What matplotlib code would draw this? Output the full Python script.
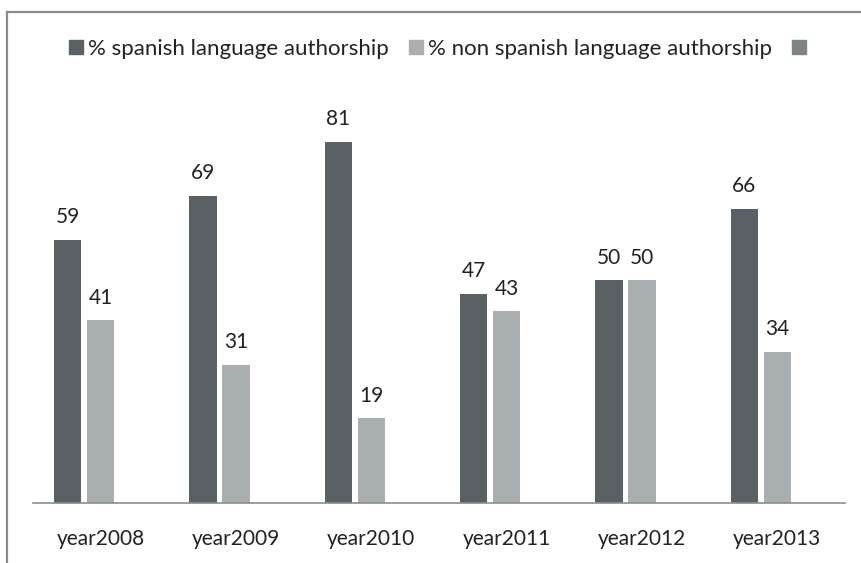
import matplotlib.pyplot as plt
from matplotlib.lines import Line2D
import numpy as np

plt.rcParams['font.family'] = ['Lato', 'DejaVu Sans']

years = ["year2008", "year2009", "year2010", "year2011", "year2012", "year2013"]
spanish = [59, 69, 81, 47, 50, 66]
non_spanish = [41, 31, 19, 43, 50, 34]
third = [0, 0, 0, 0, 0, 0]
labels = ["% spanish language authorship", "% non spanish language authorship", " "]

DARK = "#596164"
LIGHT = "#a9aeb0"
MID = "#7c8386"

W, H = 861, 563
fig = plt.figure(figsize=(W / 100, H / 100), dpi=100)

# axes placed in pixel terms: baseline at y=503, top at 90 -> y=102
ax = fig.add_axes([33 / W, (H - 503) / H, (845 - 33) / W, (503 - 102) / H])

x = np.arange(len(years))
bw = 0.2
off = 0.244
ax.bar(x - off, spanish, bw, color=DARK, linewidth=0)
ax.bar(x, non_spanish, bw, color=LIGHT, linewidth=0)
ax.bar(x + off, third, bw, color=MID, linewidth=0)

for xs, vals in ((x - off, spanish), (x, non_spanish)):
    for xi, v in zip(xs, vals):
        ax.annotate(str(v), (xi, v), xytext=(0, 12), textcoords="offset points",
                    ha="center", va="baseline", fontsize=15, color="#222222")

ax.set_xlim(-0.5, len(years) - 0.5)
ax.set_ylim(0, 90)
ax.set_xticks(x)
ax.set_xticklabels(years, fontsize=15, color="#222222")
ax.tick_params(axis="x", length=0, pad=19)
ax.set_yticks([])
for s in ("left", "right", "top"):
    ax.spines[s].set_visible(False)
ax.spines["bottom"].set_color("#8c8c8c")
ax.spines["bottom"].set_linewidth(1.2)

handles = [Line2D([], [], marker="s", linestyle="none", markersize=9.5, color=c)
           for c in (DARK, LIGHT, MID)]
fig.legend(handles, labels, loc="center", bbox_to_anchor=(443 / W, 1 - 49 / H),
           ncol=3, frameon=False, fontsize=16, handlelength=0.6,
           handletextpad=0.25, columnspacing=0.9, labelcolor="#222222")

# outer frame of the original chart (only top and left edges visible)
fig.add_artist(Line2D([7 / W, 1], [1 - 12 / H, 1 - 12 / H], transform=fig.transFigure,
                      color="#8a8a8a", linewidth=1.6))
fig.add_artist(Line2D([7 / W, 7 / W], [0, 1 - 12 / H], transform=fig.transFigure,
                      color="#8a8a8a", linewidth=1.6))

fig.savefig("out.png", dpi=100)
